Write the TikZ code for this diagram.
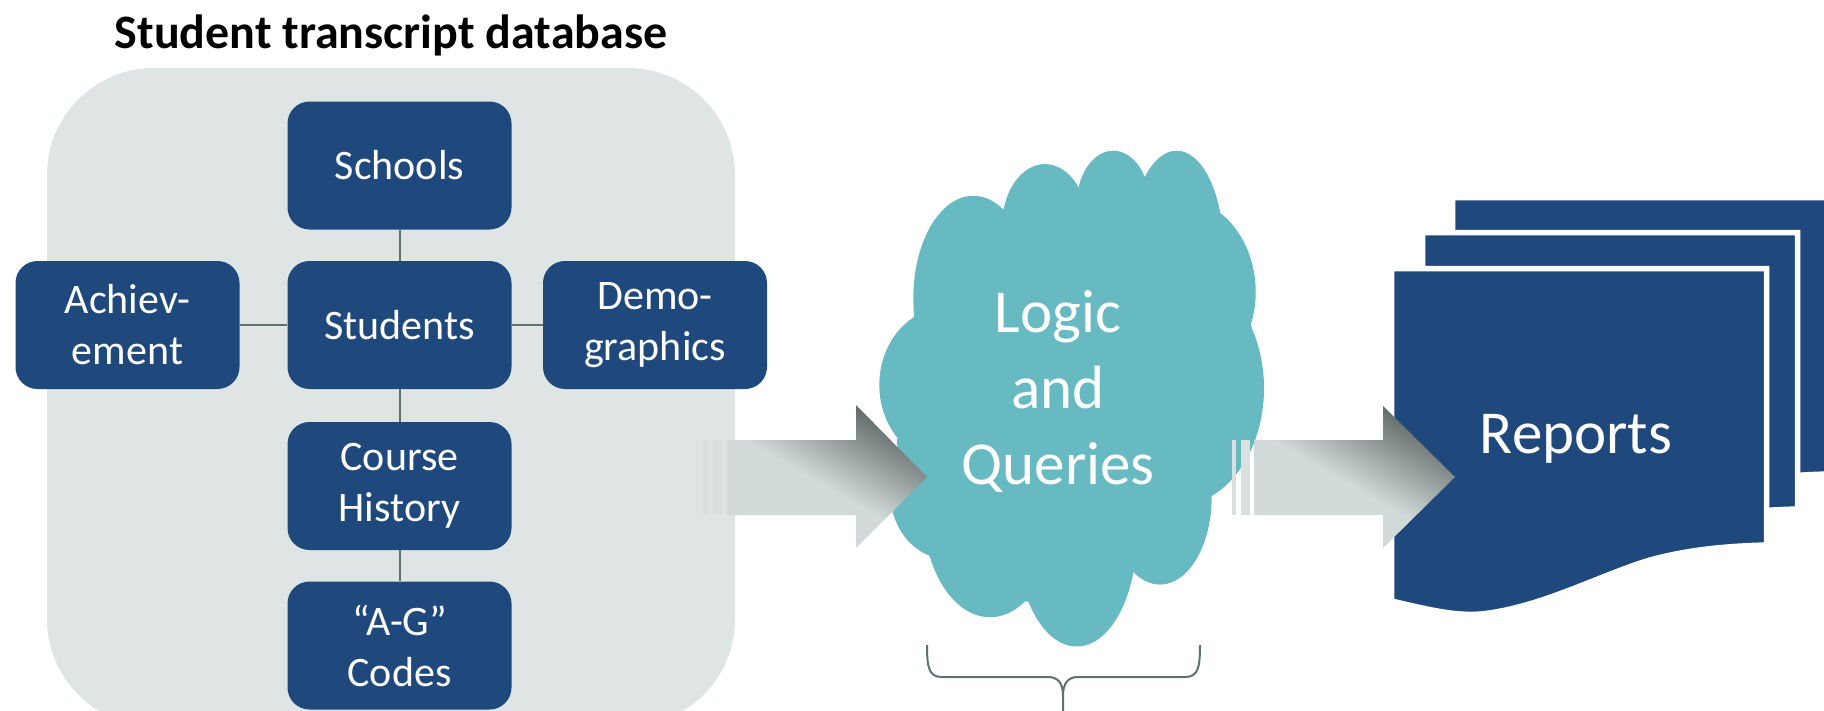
\documentclass[tikz,border=0pt]{standalone}
\usepackage{fontspec}
\setmainfont{Carlito}
\usetikzlibrary{calc}

\definecolor{navy}{HTML}{1F497D}
\definecolor{panel}{HTML}{DFE5E5}
\definecolor{cloudcol}{HTML}{67B9C2}
\definecolor{linkcol}{HTML}{5F716E}
\definecolor{arrlight}{HTML}{D3DBDA}
\definecolor{arrdark}{HTML}{5A6462}

% light grey on the lower left fading to dark grey at the upper right
\pgfdeclareverticalshading{arrowfill}{100bp}{%
  color(0bp)=(arrlight); color(47bp)=(arrlight);
  color(75bp)=(arrdark); color(100bp)=(arrdark)}

\begin{document}
\begin{tikzpicture}[x=1pt, y=-1pt,
  entity/.style={fill=navy, rounded corners=22pt, minimum width=224pt,
    minimum height=128pt, inner sep=0pt, text=white, align=center,
    font=\fontsize{42}{51}\selectfont},
  link/.style={draw=linkcol, line width=2pt},
  blockarrow/.style={shading=arrowfill, shading angle=-30},
  tailbar/.style={fill=arrlight!85!white},
  docpage/.style={fill=navy, draw=white, line width=5.5pt},
  bracket/.style={draw=linkcol, line width=2pt}]

\useasboundingbox (0,0) rectangle (1824,710);

% database panel
\fill[panel, rounded corners=107pt] (47,68) rectangle (735,726);

\node[font=\bfseries\fontsize{48}{57}\selectfont, anchor=base] (title) at (391,48)
  {Student transcript database};

% tables of the database
\node[entity] (schools)  at (399.5,165.5) {Schools};
\node[entity] (students) at (399.5,325)   {Students};
\node[entity] (achieve)  at (127.5,325)   {Achiev-\\ement};
\node[entity] (demo)     at (655,325)     {Demo-\\graphics};
\node[entity] (course)   at (399.5,486)   {Course\\History};
\node[entity] (agcodes)  at (399.5,645.5) {“A-G”\\Codes};

\draw[link] (schools) -- (students);
\draw[link] (achieve) -- (students);
\draw[link] (students) -- (demo);
\draw[link] (students) -- (course);
\draw[link] (course) -- (agcodes);

% cloud: chord polygon through the notches plus one ellipse per puff
\fill[cloudcol] (1003.3,209.2) -- (1078.3,188.6) -- (1145,176.5) -- (1220,212.6)
  -- (1251.7,328) -- (1211.7,496.8) -- (1133.3,572.5) -- (1026.7,601.8)
  -- (930,557) -- (896.7,443.3) -- (913.3,317.7) -- cycle;
\foreach \cx/\cy/\rx/\ry in {973.3/298.1/60/102.3, 1045/226.1/43/62,
    1113.3/204.7/36.7/54, 1176.7/248.1/46.7/97.4, 1176.7/291.9/79/94.7,
    1176.7/388.3/87.3/117.5, 1160/496.8/51.7/87.8, 1076.7/536.3/60/110.2,
    990/510.5/66.7/106.7, 946.7/491.6/56.7/67.2, 946/384.9/66.7/77.2}
  \fill[cloudcol] (\cx,\cy) ellipse [x radius=\rx, y radius=\ry];

\node[text=white, align=center, font=\fontsize{61}{76}\selectfont]
  (logic) at (1058,392) {Logic\\and\\Queries};

% stack of report pages, back to front
\foreach \dx/\dy in {61/-71, 31/-36, 0/0}
  \path[docpage, shift={(\dx,\dy)}] (1391.5,268.5) -- (1766.5,268.5) -- (1766.5,545)
    .. controls (1730,546) and (1690,549) .. (1650,560)
    .. controls (1600,575) and (1540,608) .. (1481,614)
    .. controls (1455,616) and (1430,610) .. (1391.5,601) -- cycle;

\node[text=white, font=\fontsize{61}{73}\selectfont, anchor=base]
  (reports) at (1576,453) {Reports};

% block arrows with striped tails
\fill[tailbar] (703,440) rectangle (708,515);
\fill[tailbar] (713,440) rectangle (722,515);
\path[blockarrow] (727,440) -- (856,440) -- (856,405) -- (927,477)
  -- (856,548) -- (856,515) -- (727,515) -- cycle;

\fill[tailbar] (1231.5,440) rectangle (1236,515);
\fill[tailbar] (1241,440) rectangle (1250,515);
\path[blockarrow] (1254,440) -- (1383,440) -- (1383,406) -- (1455,477)
  -- (1383,548) -- (1383,515) -- (1254,515) -- cycle;

% brace under the cloud
\draw[bracket] (927,645) .. controls (927,668) and (929,677) .. (942,677)
  -- (1048,677) .. controls (1058,677) and (1063,683) .. (1063,696) -- (1063,712);
\draw[bracket] (1200,645) .. controls (1200,668) and (1198,677) .. (1185,677)
  -- (1078,677) .. controls (1068,677) and (1063,683) .. (1063,696);

\end{tikzpicture}
\end{document}
